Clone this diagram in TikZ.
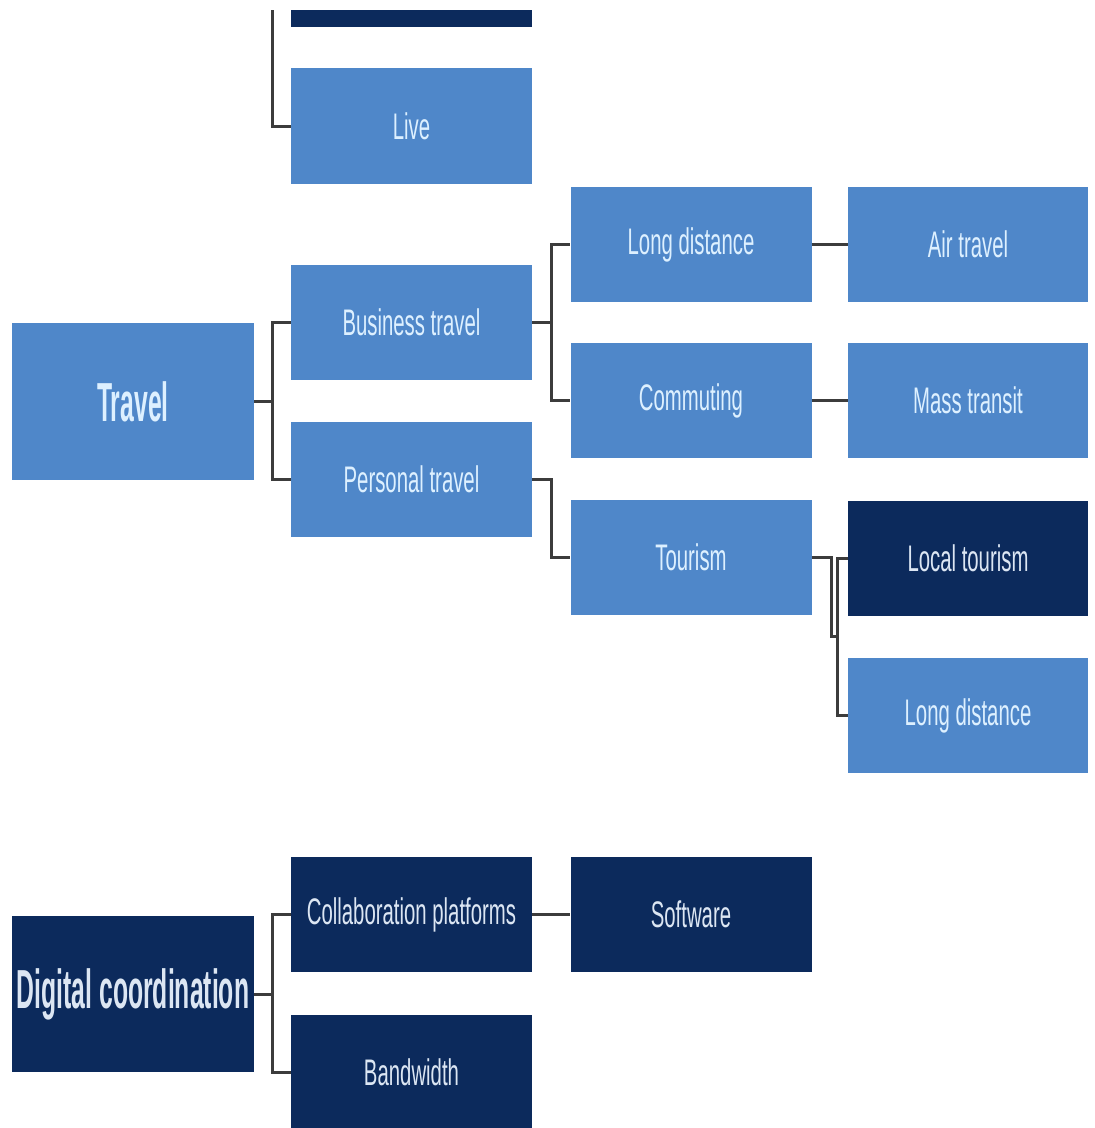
\documentclass[tikz,border=0pt]{standalone}
\usepackage{fontspec}
\newfontfamily\condfont[FakeStretch=0.55]{Liberation Sans}
\newfontfamily\condbold[FakeStretch=0.45]{Liberation Sans Bold}
\definecolor{lightbox}{HTML}{4F87C9}
\definecolor{darkbox}{HTML}{0C2A5C}
\definecolor{lighttext}{HTML}{DDF0FF}
\definecolor{darktext}{HTML}{DCE6F3}
\definecolor{wire}{HTML}{3C3C3C}
\begin{document}
\begin{tikzpicture}[x=1pt,y=-1pt,
  boxbase/.style={inner sep=0pt, minimum width=241pt, minimum height=115pt, align=center,
    font=\condfont\fontsize{37}{40}\selectfont},
  lbox/.style={boxbase, fill=lightbox, text=lighttext},
  dbox/.style={boxbase, fill=darkbox, text=darktext},
  bigtext/.style={minimum width=242pt, minimum height=157pt, font=\condbold\fontsize{55}{58}\selectfont},
  wirestyle/.style={draw=wire, line width=3pt}
]
\useasboundingbox (0,0) rectangle (1095,1128);
\fill[white] (0,0) rectangle (1095,1128);

% nodes
\node[dbox, minimum height=17pt] (topbox) at (411.5,18.5) {};
\node[lbox, minimum height=116pt] (live) at (411.5,126) {Live};
\node[lbox, bigtext] (travel) at (133,401.5) {Travel};
\node[lbox] (business) at (411.5,322.5) {Business travel};
\node[lbox] (personal) at (411.5,479.5) {Personal travel};
\node[lbox] (longd) at (691,244.5) {Long distance};
\node[lbox] (commuting) at (691,400.5) {Commuting};
\node[lbox] (tourism) at (691,557.5) {Tourism};
\node[lbox, minimum width=240pt] (air) at (968,244.5) {Air travel};
\node[lbox, minimum width=240pt] (mass) at (968,400.5) {Mass transit};
\node[dbox, minimum width=240pt] (local) at (968,558.5) {Local tourism};
\node[lbox, minimum width=240pt] (longd2) at (968,715.5) {Long distance};
\node[dbox, bigtext, minimum height=156pt] (digital) at (133,994) {Digital coordination};
\node[dbox] (collab) at (411.5,914.5) {Collaboration platforms};
\node[dbox] (bandwidth) at (411.5,1072.5) {Bandwidth};
\node[dbox] (software) at (691,914.5) {Software};

% connectors
\coordinate (topend) at (272,10);
\draw[wirestyle] (topend) |- (live.west);
\draw[wirestyle] (travel.east) -- ++(18,0) |- (business.west);
\draw[wirestyle] (travel.east) -- ++(18,0) |- (personal.west);
\draw[wirestyle] (business.east) -- ++(19,0) |- (longd.west);
\draw[wirestyle] (business.east) -- ++(19,0) |- (commuting.west);
\draw[wirestyle] (personal.east) -- ++(19,0) |- (tourism.west);
\draw[wirestyle] (longd.east) -- (air.west);
\draw[wirestyle] (commuting.east) -- (mass.west);
\draw[wirestyle] (tourism.east) -- ++(20,0) -- ++(0,79) -- ++(6,0);
\draw[wirestyle] (local.west) -- ++(-10,0) |- (longd2.west);
\draw[wirestyle] (digital.east) -- ++(18,0) |- (collab.west);
\draw[wirestyle] (digital.east) -- ++(18,0) |- (bandwidth.west);
\draw[wirestyle] (collab.east) -- (software.west);
\end{tikzpicture}
\end{document}
